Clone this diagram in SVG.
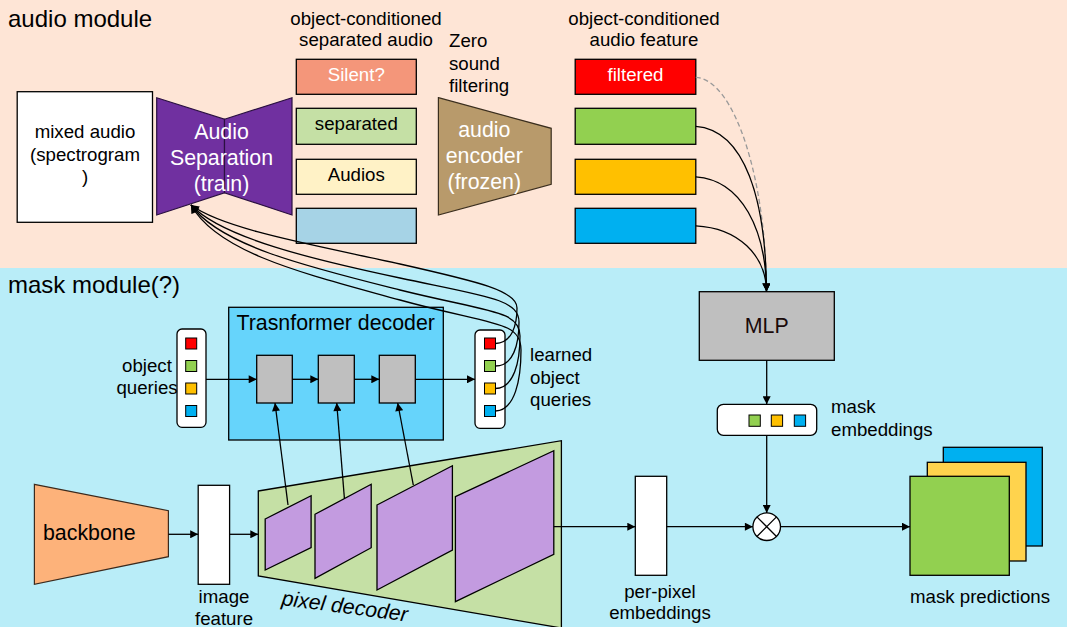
<svg xmlns="http://www.w3.org/2000/svg" width="1067" height="627" viewBox="0 0 1067 627">
<defs>
<marker id="ah" viewBox="0 0 10 10" refX="10" refY="5" markerWidth="9" markerHeight="8" markerUnits="userSpaceOnUse" orient="auto"><path d="M0,0 L10,5 L0,10 z" fill="#000"/></marker>
<style>
text{font-family:"Liberation Sans",Arial,sans-serif;fill:#000}
.t14{font-size:18.67px}
.t16{font-size:21.33px}
.t18{font-size:24px}
.w{fill:#fff}
.mid{text-anchor:middle}
.box{stroke:#000;stroke-width:1.3}
.sq{stroke:#000;stroke-width:1}
.con{fill:none;stroke:#000;stroke-width:1.3}
.arr{marker-end:url(#ah)}
</style>
</defs>
<rect x="0" y="0" width="1067" height="268" fill="#FEE5D6"/>
<rect x="0" y="268" width="1067" height="359" fill="#B9EDF8"/>
<text x="8" y="27" class="t18">audio module</text>
<text x="8" y="293" class="t18">mask module(?)</text>

<g id="mixed-audio">
<rect x="17.2" y="91.7" width="135.3" height="130.6" fill="#fff" class="box"/>
<text class="t14 mid" x="85" y="138.3">mixed audio</text>
<text class="t14 mid" x="85" y="160.8">(spectrogram</text>
<text class="t14 mid" x="85" y="183.3">)</text>
</g>

<g id="audio-separation">
<polygon points="156.7,97.7 224.5,119.3 224.5,192.7 156.7,215" fill="#7030A0" stroke="#2a1040" stroke-width="1.2"/>
<polygon points="224.5,119.3 292,97.7 292,215 224.5,192.7" fill="#7030A0" stroke="#2a1040" stroke-width="1.2"/>
<text class="t16 mid w" x="221.5" y="138.5">Audio</text>
<text class="t16 mid w" x="221.5" y="164.5">Separation</text>
<text class="t16 mid w" x="221.5" y="190.5">(train)</text>
</g>

<g id="separated-audio">
<text class="t14 mid" x="366" y="25">object-conditioned</text>
<text class="t14 mid" x="366" y="45.7">separated audio</text>
<rect x="296.3" y="59.3" width="120" height="35" fill="#F4967A" class="box"/>
<text class="t14 mid w" x="356.3" y="80.7">Silent?</text>
<rect x="296.3" y="108.3" width="120" height="36" fill="#C5E0A5" class="box"/>
<text class="t14 mid" x="356.3" y="130">separated</text>
<rect x="296.3" y="159.3" width="120" height="35" fill="#FFF2C6" class="box"/>
<text class="t14 mid" x="356.3" y="180.5">Audios</text>
<rect x="296.3" y="208.3" width="120" height="35" fill="#A6D3E6" class="box"/>
</g>

<g id="zero-sound-filtering">
<text class="t14" x="449" y="47">Zero</text>
<text class="t14" x="449" y="69.5">sound</text>
<text class="t14" x="449" y="92">filtering</text>
</g>

<g id="audio-encoder">
<polygon points="438.4,97.7 551.2,128.3 551.2,184.3 438.4,215" fill="#B89A6B" stroke="#3a2e1e" stroke-width="1.2"/>
<text class="t16 mid w" x="484.3" y="137.3">audio</text>
<text class="t16 mid w" x="484.3" y="163.3">encoder</text>
<text class="t16 mid w" x="484.3" y="189.3">(frozen)</text>
</g>

<g id="audio-features">
<text class="t14 mid" x="644" y="25">object-conditioned</text>
<text class="t14 mid" x="644" y="45.7">audio feature</text>
<rect x="575.2" y="59.3" width="120.6" height="35" fill="#FF0000" class="box"/>
<text class="t14 mid w" x="635.5" y="80.7">filtered</text>
<rect x="575.2" y="108.3" width="120.6" height="36" fill="#92D050" class="box"/>
<rect x="575.2" y="159.3" width="120.6" height="35" fill="#FFC000" class="box"/>
<rect x="575.2" y="208.3" width="120.6" height="35" fill="#00B0F0" class="box"/>
</g>

<g id="mlp">
<rect x="699.3" y="291.7" width="135" height="68.6" fill="#BFBFBF" class="box"/>
<text class="t16 mid" x="766.7" y="333" style="fill:#1a0a0a">MLP</text>
</g>

<g id="object-queries">
<rect x="177" y="329" width="29" height="98.3" rx="5" fill="#fff" class="box"/>
<rect x="185.7" y="338" width="11" height="11" fill="#FF0000" class="sq"/>
<rect x="185.7" y="360.5" width="11" height="11" fill="#92D050" class="sq"/>
<rect x="185.7" y="383" width="11" height="11" fill="#FFC000" class="sq"/>
<rect x="185.7" y="405.5" width="11" height="11" fill="#00B0F0" class="sq"/>
<text class="t14 mid" x="147" y="371.7">object</text>
<text class="t14 mid" x="147" y="394.3">queries</text>
</g>

<g id="transformer-decoder">
<rect x="228.7" y="307.3" width="214.6" height="132.7" fill="#66D4FB" class="box"/>
<text class="t16" x="236.5" y="330">Trasnformer decoder</text>
<rect x="256.7" y="355.3" width="35.6" height="47.7" fill="#BFBFBF" class="box"/>
<rect x="318.3" y="355.3" width="36" height="47.7" fill="#BFBFBF" class="box"/>
<rect x="379.3" y="355.3" width="36" height="47.7" fill="#BFBFBF" class="box"/>
</g>

<g id="learned-queries">
<rect x="475" y="330" width="30" height="98.3" rx="5" fill="#fff" class="box"/>
<rect x="484.5" y="338" width="11" height="11" fill="#FF0000" class="sq"/>
<rect x="484.5" y="360.5" width="11" height="11" fill="#92D050" class="sq"/>
<rect x="484.5" y="383" width="11" height="11" fill="#FFC000" class="sq"/>
<rect x="484.5" y="405.5" width="11" height="11" fill="#00B0F0" class="sq"/>
<text class="t14" x="530" y="361">learned</text>
<text class="t14" x="530" y="383.5">object</text>
<text class="t14" x="530" y="406">queries</text>
</g>

<g id="mask-embeddings">
<rect x="717.3" y="404.3" width="99.4" height="31" rx="6" fill="#fff" class="box"/>
<rect x="749" y="415" width="11.3" height="11.3" fill="#92D050" class="sq"/>
<rect x="771.3" y="415" width="11.3" height="11.3" fill="#FFC000" class="sq"/>
<rect x="794.3" y="415" width="11.3" height="11.3" fill="#00B0F0" class="sq"/>
<text class="t14" x="831" y="413.3">mask</text>
<text class="t14" x="831" y="436">embeddings</text>
</g>

<g id="backbone">
<polygon points="34.4,484.3 168.4,510.7 168.4,556.7 34.4,584.3" fill="#FDB27A" stroke="#3a2a1e" stroke-width="1.2"/>
<text class="t16" x="43" y="540">backbone</text>
</g>

<g id="image-feature">
<rect x="198.2" y="485.3" width="31.4" height="99" fill="#fff" class="box"/>
<text class="t14 mid" x="224" y="603">image</text>
<text class="t14 mid" x="224" y="625">feature</text>
</g>

<g id="pixel-decoder">
<polygon points="258.3,491 561.4,440.7 561.4,628 258.3,576" fill="#C5E0A5" class="box"/>
<polygon points="265.2,519 311.1,495.7 311.1,547.7 265.2,570" fill="#C39BE0" class="box"/>
<polygon points="315,514.3 371.2,484.3 371.2,547.7 315,578.3" fill="#C39BE0" class="box"/>
<polygon points="377,505 452.4,465.7 452.4,550 377,590" fill="#C39BE0" class="box"/>
<polygon points="455.4,496.7 553.8,450.7 553.8,554.3 455.4,601.7" fill="#C39BE0" class="box"/>
<text class="t16" x="281" y="605" font-style="italic" transform="rotate(7.5 281 605)">pixel decoder</text>
</g>

<g id="per-pixel-embeddings">
<rect x="635.3" y="476.3" width="31.4" height="99" fill="#fff" class="box"/>
<text class="t14 mid" x="660" y="598.3">per-pixel</text>
<text class="t14 mid" x="660" y="619.3">embeddings</text>
</g>

<g id="multiply">
<circle cx="766.7" cy="526.7" r="13.8" fill="#fff" class="box"/>
<path d="M756.9,516.9 L776.5,536.5 M776.5,516.9 L756.9,536.5" stroke="#000" stroke-width="1.3"/>
</g>

<g id="mask-predictions">
<rect x="943.3" y="447.3" width="99" height="98.7" fill="#00B0F0" class="box"/>
<rect x="927.3" y="462.3" width="98.7" height="98.7" fill="#FFD34D" class="box"/>
<rect x="910" y="476.3" width="99.3" height="99" fill="#92D050" class="box"/>
<text class="t14" x="910" y="602.7">mask predictions</text>
</g>

<g id="connectors">
<path class="con" d="M695.8,77.3 C735,80 766,180 766.5,290" stroke="#999" stroke-dasharray="5,3" style="stroke:#999"/>
<path class="con arr" d="M695.8,126.3 C745,130 766,200 766.5,291.5"/>
<path class="con arr" d="M695.8,176.8 C742,180 766,230 766.5,291.5"/>
<path class="con arr" d="M695.8,225.8 C738,228 766,255 766.5,291.5"/>
<path class="con arr" d="M495.5,343.5 C512,343 517,325 517,308 S480,282 400,264 S225,230 191,205"/>
<path class="con arr" d="M495.5,366 C513,366 519,345 519,322 S485,296 400,278 S222,238 191,205"/>
<path class="con arr" d="M495.5,388.5 C514,388 520,362 520,336 S488,312 400,290 S220,246 191,205"/>
<path class="con arr" d="M495.5,411 C515,410 521,380 521,350 S490,325 400,300 S218,254 191,205"/>
<path class="con arr" d="M206,379.3 L256.7,379.3"/>
<path class="con arr" d="M292.3,379.3 L318.3,379.3"/>
<path class="con arr" d="M354.3,379.3 L379.3,379.3"/>
<path class="con arr" d="M415.3,379.3 L475,379.3"/>
<path class="con arr" d="M288,505 L275,403"/>
<path class="con arr" d="M344.4,498.3 L336.7,403"/>
<path class="con arr" d="M413.3,485 L397.7,403"/>
<path class="con arr" d="M168.4,534.3 L198.2,534.3"/>
<path class="con arr" d="M229.6,534.3 L258.3,534.3"/>
<path class="con arr" d="M553.8,526.7 L635.3,526.7"/>
<path class="con arr" d="M666.7,526.7 L752.9,526.7"/>
<path class="con arr" d="M780.5,526.7 L910,526.7"/>
<path class="con arr" d="M766.7,360.3 L766.7,404.3"/>
<path class="con arr" d="M766.7,435.3 L766.7,512.9"/>
</g>
</svg>
